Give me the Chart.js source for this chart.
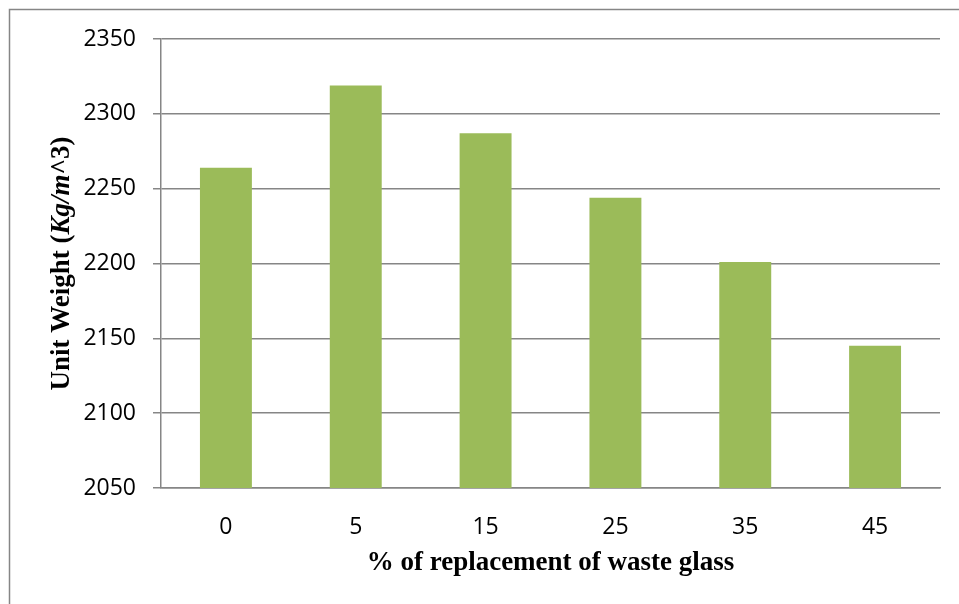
<!DOCTYPE html>
<html>
<head>
<meta charset="utf-8">
<script src="https://cdn.jsdelivr.net/npm/chart.js@4.4.1/dist/chart.umd.min.js"></script>
<style>
  html, body { margin: 0; padding: 0; background: #fff; }
  #wrap { width: 959px; height: 604px; position: relative; }
</style>
</head>
<body>
<div id="wrap"><canvas id="unit-weight"></canvas></div>
<script>
// % replacement of waste glass vs. unit weight
const replacement = ['0', '5', '15', '25', '35', '45'];
const unitWeight = [2264, 2319, 2287, 2244, 2201, 2145];
const yMin = 2050;
const yMax = 2350;
const yStep = 50;

const GRID = '#868686';
const BAR = '#9bbb59';
const SERIF = '"Liberation Serif", "Times New Roman", serif';
const SANS = '"Open Sans", sans-serif';

// frame + axis titles (y title mixes upright and italic runs)
const titles = {
  id: 'titles',
  beforeDraw(chart) {
    const ctx = chart.ctx;
    ctx.save();
    ctx.strokeStyle = GRID;
    ctx.lineWidth = 1.5;
    ctx.strokeRect(9.5, 9.5, 1000, 1000);
    ctx.restore();
  },
  afterDraw(chart) {
    const ctx = chart.ctx;
    const area = chart.chartArea;
    ctx.save();
    ctx.fillStyle = '#000';
    ctx.textBaseline = 'middle';
    ctx.textAlign = 'center';
    ctx.font = 'bold 27px ' + SERIF;
    ctx.fillText('% of replacement of waste glass', (area.left + area.right) / 2, 563);

    const parts = [
      { t: 'Unit Weight (', f: 'bold 27px ' + SERIF },
      { t: 'Kg/m', f: 'italic bold 27px ' + SERIF },
      { t: '^3)', f: 'bold 27px ' + SERIF }
    ];
    let total = 0;
    parts.forEach(p => { ctx.font = p.f; p.w = ctx.measureText(p.t).width; total += p.w; });
    ctx.translate(62, (area.top + area.bottom) / 2);
    ctx.rotate(-Math.PI / 2);
    ctx.textAlign = 'left';
    let x = -total / 2;
    parts.forEach(p => { ctx.font = p.f; ctx.fillText(p.t, x, 0); x += p.w; });
    ctx.restore();
  }
};

new Chart(document.getElementById('unit-weight'), {
  type: 'bar',
  data: {
    labels: replacement,
    datasets: [{
      data: unitWeight,
      backgroundColor: BAR,
      borderWidth: 0,
      barPercentage: 0.4,
      categoryPercentage: 1
    }]
  },
  options: {
    responsive: true,
    maintainAspectRatio: false,
    animation: false,
    layout: { padding: { top: 39, right: 19, left: 0, bottom: 0 } },
    plugins: {
      legend: { display: false },
      tooltip: { enabled: false }
    },
    scales: {
      x: {
        grid: { display: false },
        border: { display: true, color: GRID, width: 1.5 },
        ticks: {
          color: '#000',
          padding: 18,
          font: { family: SANS, size: 23 }
        },
        afterFit(scale) { scale.height = 116; }
      },
      y: {
        min: yMin,
        max: yMax,
        grid: { color: GRID, lineWidth: 1.5, tickLength: 8, drawTicks: true },
        border: { display: true, color: GRID, width: 1.5 },
        ticks: {
          stepSize: yStep,
          color: '#000',
          padding: 17,
          font: { family: SANS, size: 23 },
          callback: v => String(v)
        },
        afterFit(scale) { scale.width = 161; }
      }
    }
  },
  plugins: [titles]
});
</script>
</body>
</html>
